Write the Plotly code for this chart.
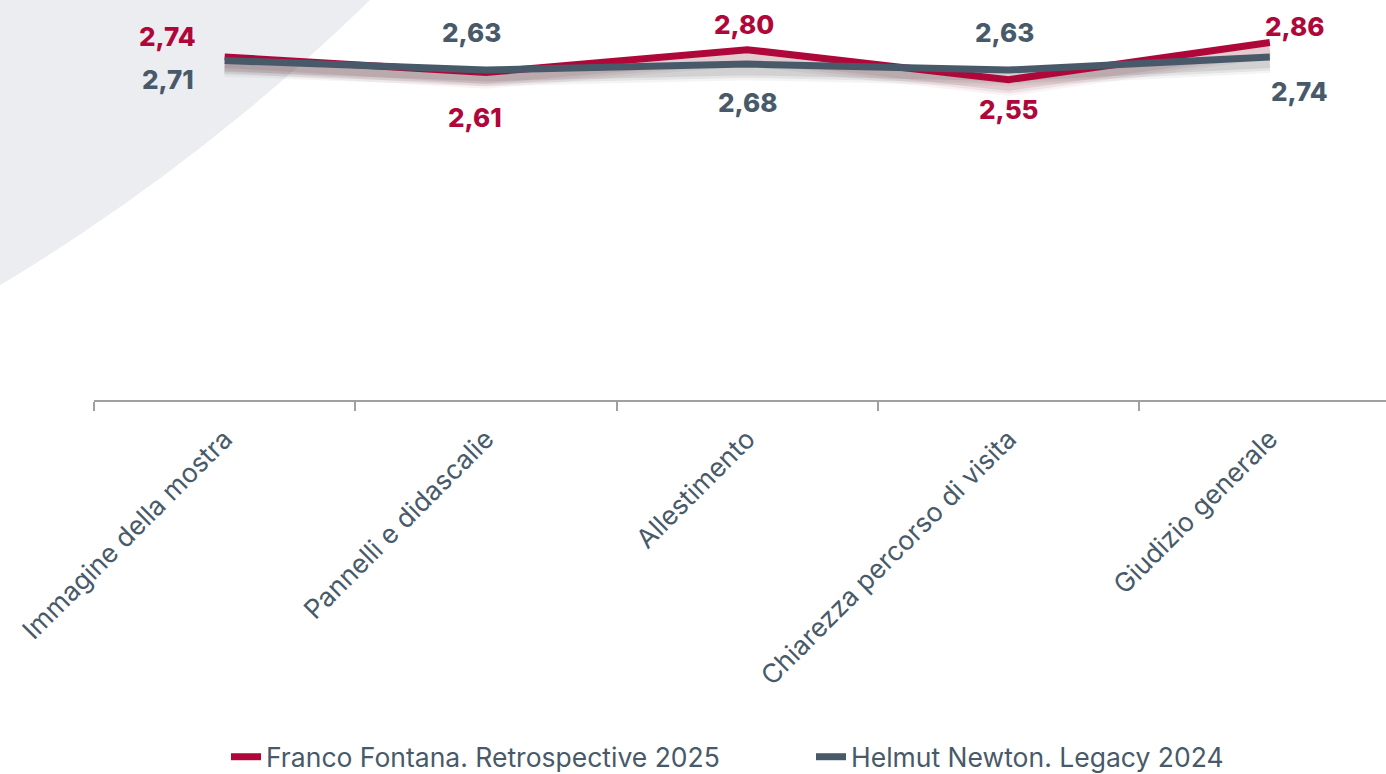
import plotly.graph_objects as go

categories = ["Immagine della mostra", "Pannelli e didascalie", "Allestimento",
              "Chiarezza percorso di visita", "Giudizio generale"]
series_names = ["Franco Fontana. Retrospective 2025", "Helmut Newton. Legacy 2024"]
fontana = [2.74, 2.61, 2.80, 2.55, 2.86]
newton = [2.71, 2.63, 2.68, 2.63, 2.74]

RED = "#B0073A"
GRAY = "#485A69"
FONT = "Inter"

W, H = 1386, 774
ML, MT, MR, MB = 94, 0, 0, 374
PW, PH = W - ML - MR, H - MT - MB
PX_PER_UNIT = 120.0
Y_TOP = 3.214

# label offsets (px) per point: (xshift, yshift)
red_off = [(-57, 20), (-11, -45), (-3, 25), (0, -30), (25, 16)]
gray_off = [(-57, -19), (-14, 38), (0, -38), (-4, 38), (30, -35)]

fig = go.Figure()

# soft drop shadows under the lines
for vals, rgb in ((fontana, "140,50,65"), (newton, "70,70,75")):
    for w, a in ((18, 0.06), (13, 0.09), (8, 0.12)):
        fig.add_trace(go.Scatter(x=categories, y=[v - 0.06 for v in vals], mode="lines",
                                 line=dict(color=f"rgba({rgb},{a})", width=w),
                                 showlegend=False, hoverinfo="skip"))

fig.add_trace(go.Scatter(x=categories, y=fontana, mode="lines", name=series_names[0],
                         line=dict(color=RED, width=7)))
fig.add_trace(go.Scatter(x=categories, y=newton, mode="lines", name=series_names[1],
                         line=dict(color=GRAY, width=7)))

ann = []
for vals, offs, col in ((fontana, red_off, RED), (newton, gray_off, GRAY)):
    for c, v, (dx, dy) in zip(categories, vals, offs):
        ann.append(dict(x=c, y=v, xref="x", yref="y", text=f"{v:.2f}".replace(".", ","),
                        showarrow=False, xshift=dx, yshift=dy,
                        font=dict(family=FONT, size=26, color=col, weight=800)))

# decorative background circle (pixel geometry -> paper)
cx, cy, r = -1050, -1459, 2036
def px_to_paper_x(p):
    return (p - ML) / PW
def px_to_paper_y(p):
    return 1 - (p - MT) / PH

fig.update_layout(
    width=W, height=H,
    margin=dict(l=ML, r=MR, t=MT, b=MB, autoexpand=False),
    paper_bgcolor="white", plot_bgcolor="rgba(0,0,0,0)",
    annotations=ann,
    shapes=[dict(type="circle", xref="paper", yref="paper", layer="below",
                 x0=px_to_paper_x(cx - r), x1=px_to_paper_x(cx + r),
                 y0=px_to_paper_y(cy + r), y1=px_to_paper_y(cy - r),
                 fillcolor="#ECEDF0", line=dict(width=0))],
    xaxis=dict(type="category", range=[-0.5, -0.5 + PW / 261.3], showgrid=False,
               showline=True, linecolor="#A0A0A0", linewidth=2,
               ticks="outside", tickson="boundaries", ticklen=9, tickwidth=2,
               tickcolor="#A0A0A0", tickangle=-45, ticklabelstandoff=11,
               tickfont=dict(family=FONT, size=26.5, color=GRAY)),
    yaxis=dict(range=[Y_TOP - PH / PX_PER_UNIT, Y_TOP], visible=False,
               showgrid=False, zeroline=False),
    legend=dict(orientation="h", x=(811 - ML) / PW, xanchor="center",
                y=px_to_paper_y(757), yanchor="middle", entrywidth=540,
                font=dict(family=FONT, size=26.5, color=GRAY), bgcolor="rgba(0,0,0,0)"),
    hovermode=False,
)

fig.write_html("out.html", config={"displayModeBar": False},
               post_script="document.body.style.margin='0';")
